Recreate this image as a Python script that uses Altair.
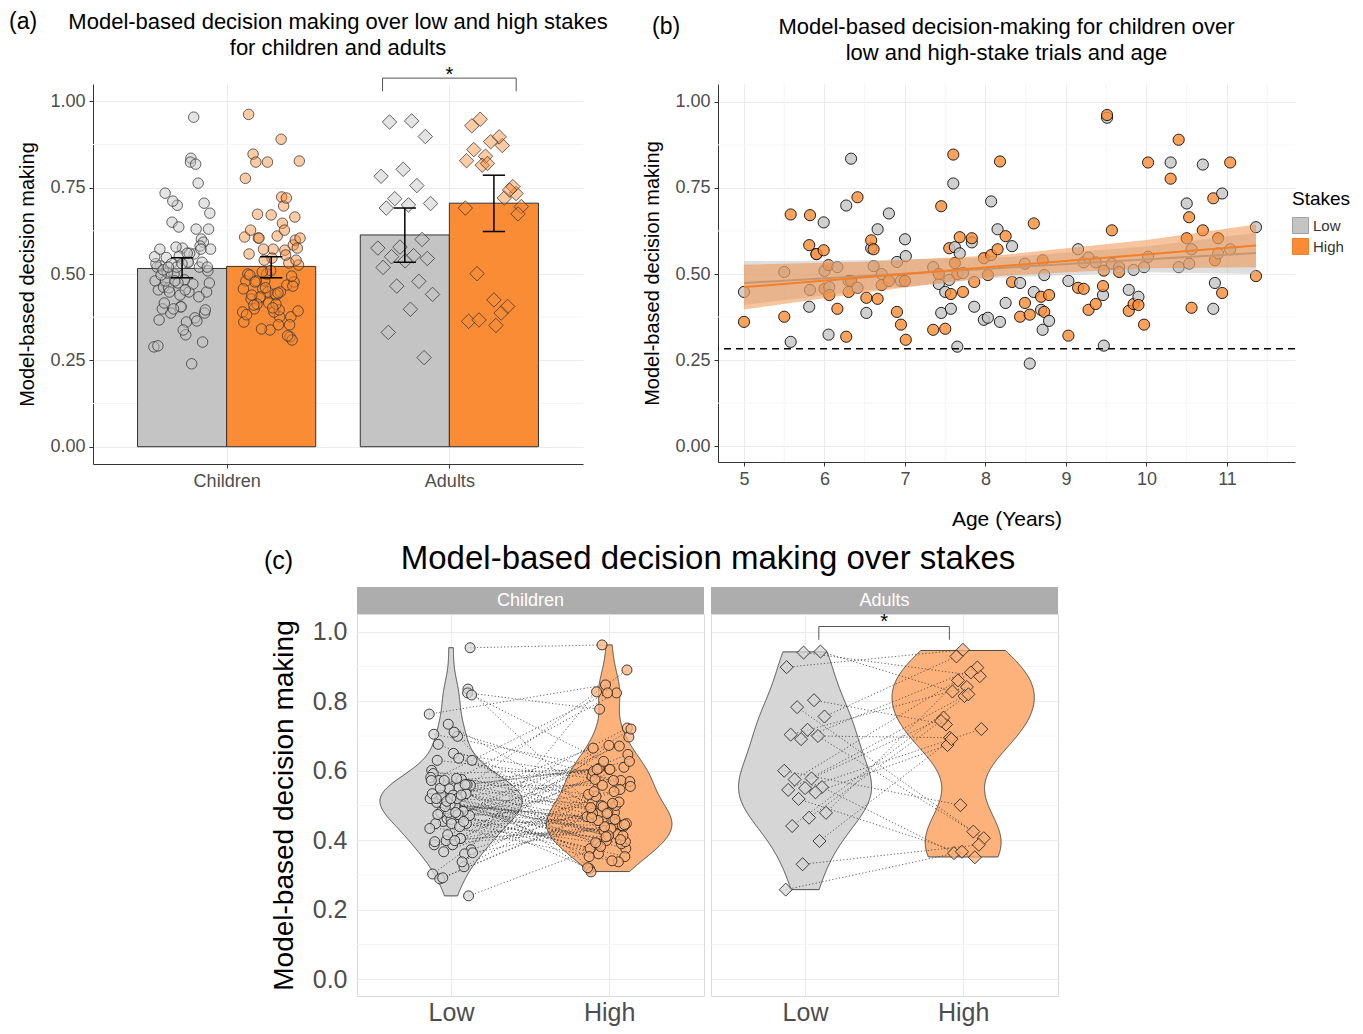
import altair as alt
import pandas as pd

FONT = "Liberation Sans"
GREY = "#C4C4C4"
ORANGE = "#FA8C35"
GRID = "#EBEBEB"
MINOR = "#F4F4F4"
AXIS = "#333333"
LABEL = "#4D4D4D"

# ---------------- text ----------------
stakes_levels = ["Low", "High"]
group_levels = ["Children", "Adults"]
panel_tags = ["(a)", "(b)", "(c)"]
title_a = ["Model-based decision making over low and high stakes", "for children and adults"]
title_b = ["Model-based decision-making for children over", "low and high-stake trials and age"]
title_c = "Model-based decision making over stakes"
y_title = "Model-based decision making"
x_title_b = "Age (Years)"
legend_title = "Stakes"
signif_label = "*"

# ---------------- data ----------------
child_age = [5.0, 5.5, 5.58, 5.81, 5.82, 5.9, 5.99, 6.0, 6.05, 6.06,
             6.16, 6.27, 6.3, 6.33, 6.41, 6.52, 6.58, 6.61, 6.66, 6.71,
             6.8, 6.9, 6.95, 7.0, 7.01, 7.35, 7.42, 7.45, 7.5, 7.55,
             7.57, 7.6, 7.62, 7.65, 7.68, 7.72, 7.83, 7.86, 7.98, 8.03,
             8.07, 8.15, 8.18, 8.25, 8.33, 8.43, 8.49, 8.55, 8.6, 8.69,
             8.71, 8.73, 8.79, 9.03, 9.15, 9.22, 9.28, 9.37, 9.46, 9.47,
             9.51, 9.57, 9.66, 9.78, 9.84, 9.9, 9.97, 10.02, 10.3, 10.4,
             10.5, 10.53, 10.56, 10.7, 10.83, 10.85, 10.89, 10.94, 11.04, 11.36]
child_low = [0.448, 0.506, 0.303, 0.405, 0.454, 0.558, 0.650, 0.509, 0.324, 0.462,
             0.520, 0.699, 0.480, 0.835, 0.460, 0.387, 0.575, 0.523, 0.630, 0.500,
             0.676, 0.535, 0.480, 0.601, 0.552, 0.520, 0.471, 0.387, 0.448, 0.483,
             0.399, 0.763, 0.578, 0.289, 0.560, 0.503, 0.592, 0.405, 0.367, 0.373,
             0.711, 0.630, 0.361, 0.416, 0.581, 0.474, 0.530, 0.240, 0.448, 0.396,
             0.338, 0.497, 0.364, 0.480, 0.572, 0.534, 0.548, 0.534, 0.439, 0.292,
             0.954, 0.530, 0.520, 0.454, 0.512, 0.434, 0.520, 0.550, 0.824, 0.520,
             0.705, 0.530, 0.572, 0.818, 0.399, 0.474, 0.560, 0.734, 0.572, 0.636]
child_high = [0.361, 0.376, 0.673, 0.584, 0.671, 0.558, 0.569, 0.457, 0.526, 0.439,
              0.399, 0.318, 0.448, 0.480, 0.723, 0.431, 0.598, 0.572, 0.428, 0.468,
              0.480, 0.390, 0.353, 0.480, 0.309, 0.338, 0.500, 0.697, 0.341, 0.575,
              0.442, 0.847, 0.532, 0.500, 0.607, 0.448, 0.604, 0.477, 0.546, 0.497,
              0.555, 0.572, 0.827, 0.610, 0.477, 0.376, 0.416, 0.382, 0.647, 0.434,
              0.540, 0.390, 0.439, 0.321, 0.460, 0.457, 0.396, 0.413, 0.465, 0.510,
              0.962, 0.627, 0.506, 0.393, 0.413, 0.410, 0.353, 0.824, 0.777, 0.890,
              0.604, 0.665, 0.402, 0.627, 0.720, 0.540, 0.604, 0.445, 0.824, 0.494]
adult_low = [0.943, 0.940, 0.898, 0.803, 0.783, 0.756, 0.718, 0.704, 0.700, 0.691,
             0.600, 0.578, 0.575, 0.553, 0.550, 0.545, 0.538, 0.519, 0.479, 0.465,
             0.441, 0.398, 0.331, 0.258]
adult_high = [0.828, 0.872, 0.948, 0.733, 0.425, 0.929, 0.406, 0.841, 0.695, 0.897,
              0.501, 0.753, 0.883, 0.363, 0.720, 0.815, 0.674, 0.351, 0.860, 0.743,
              0.820, 0.691, 0.387, 0.367]

# bar summaries (mean and 95% CI)
bar_group = ["Children", "Children", "Adults", "Adults"]
bar_stakes = ["Low", "High", "Low", "High"]
bar_mean = [0.516, 0.522, 0.613, 0.705]
bar_ci_lo = [0.489, 0.489, 0.534, 0.623]
bar_ci_hi = [0.547, 0.550, 0.691, 0.786]

# linear fits and confidence bands
fit_age = [5.0, 11.36]
fit_low = [0.474, 0.561]
fit_high = [0.462, 0.583]
band_age = [5.0, 6.5, 8.2, 10.0, 11.36]
band_low_lo = [0.410, 0.452, 0.490, 0.505, 0.500]
band_low_hi = [0.537, 0.540, 0.548, 0.580, 0.620]
band_high_lo = [0.397, 0.446, 0.495, 0.517, 0.520]
band_high_hi = [0.527, 0.536, 0.555, 0.599, 0.644]
chance_level = 0.283

# ticks
a_y_ticks = [0.0, 0.25, 0.5, 0.75, 1.0]
a_y_minor = [0.125, 0.375, 0.625, 0.875]
b_x_ticks = [5, 6, 7, 8, 9, 10, 11]
b_x_minor = [5.5, 6.5, 7.5, 8.5, 9.5, 10.5, 11.5]
c_y_ticks = [0.0, 0.2, 0.4, 0.6, 0.8, 1.0]
c_y_minor = [0.1, 0.3, 0.5, 0.7, 0.9]

# significance brackets
signif_a_x = [1.7, 2.3]
signif_a_y = [1.029, 1.067]
signif_c_x = [1.087, 1.913]
signif_c_y = [0.977, 1.015]

# ---------------- tables ----------------
def jit(k, w, s):
    return ((((k + 1) * 0.6180339887 + s) % 1.0) - 0.5) * 2.0 * w

rows = []
for i, (a, lo, hi) in enumerate(zip(child_age, child_low, child_high)):
    rows.append({"id": f"c{i}", "group": "Children", "age": a, "stakes": "Low", "value": lo, "k": i})
    rows.append({"id": f"c{i}", "group": "Children", "age": a, "stakes": "High", "value": hi, "k": i})
for i, (lo, hi) in enumerate(zip(adult_low, adult_high)):
    rows.append({"id": f"a{i}", "group": "Adults", "age": 0.0, "stakes": "Low", "value": lo, "k": i})
    rows.append({"id": f"a{i}", "group": "Adults", "age": 0.0, "stakes": "High", "value": hi, "k": i})
long_df = pd.DataFrame(rows)

g_index = {g: i + 1 for i, g in enumerate(group_levels)}
s_index = {s: i + 1 for i, s in enumerate(stakes_levels)}
s_offset = {stakes_levels[0]: -0.2, stakes_levels[1]: 0.2}
seed = {stakes_levels[0]: 0.0, stakes_levels[1]: 0.41}
long_df["xa"] = [g_index[g] + s_offset[s] + jit(k, 0.13, seed[s])
                 for g, s, k in zip(long_df.group, long_df.stakes, long_df.k)]
long_df["pos"] = long_df.stakes.map(s_index)
long_df["xc"] = [s_index[s] + jit(k, 0.14, seed[s] + 0.23)
                 for s, k in zip(long_df.stakes, long_df.k)]

bars_df = pd.DataFrame({"group": bar_group, "stakes": bar_stakes, "mean": bar_mean,
                        "lo": bar_ci_lo, "hi": bar_ci_hi})
bars_df["xc"] = bars_df.group.map(g_index) + bars_df.stakes.map(s_offset)
bars_df["x1"] = bars_df.xc - 0.2
bars_df["x2"] = bars_df.xc + 0.2
bars_df["c1"] = bars_df.xc - 0.05
bars_df["c2"] = bars_df.xc + 0.05
bars_df["zero"] = 0.0

fit_df = pd.DataFrame({"age": fit_age * 2,
                       "stakes": ["Low"] * 2 + ["High"] * 2,
                       "fit": fit_low + fit_high})
band_df = pd.DataFrame({"age": band_age * 2,
                        "stakes": ["Low"] * len(band_age) + ["High"] * len(band_age),
                        "lo": band_low_lo + band_high_lo,
                        "hi": band_low_hi + band_high_hi})


def bracket_df(xs, ys):
    return pd.DataFrame({"x": [xs[0], xs[0], xs[1], xs[1]],
                         "y": [ys[0], ys[1], ys[1], ys[0]],
                         "o": [0, 1, 2, 3]})


def one(**kw):
    return pd.DataFrame({k: [v] for k, v in kw.items()})


expr_groups = f"datum.value == 1 ? '{group_levels[0]}' : '{group_levels[1]}'"
expr_stakes = f"datum.value == 1 ? '{stakes_levels[0]}' : '{stakes_levels[1]}'"

fill_scale = alt.Scale(domain=stakes_levels, range=[GREY, ORANGE])

# ================= panel (a) =================
WA, HA = 490, 380
sx_a = alt.Scale(domain=[0.4, 2.6], nice=False, zero=False)
sy_a = alt.Scale(domain=[-0.05, 1.05], nice=False, zero=False)
ax_xa = alt.Axis(values=[1, 2], labelExpr=expr_groups, title=None, grid=True, gridColor=GRID,
                 domain=True, domainColor=AXIS, ticks=True, tickColor=AXIS, tickSize=4,
                 labelFontSize=18, labelColor=LABEL, labelPadding=4)
ax_ya = alt.Axis(values=a_y_ticks, format=".2f", title=y_title, grid=True, gridColor=GRID,
                 domain=True, domainColor=AXIS, ticks=True, tickColor=AXIS, tickSize=4,
                 labelFontSize=18, labelColor=LABEL, labelPadding=4, titleFontSize=20,
                 titleFontWeight="normal", titleColor="black", titlePadding=12)


def XA(f):
    return alt.X(f, type="quantitative", scale=sx_a, axis=ax_xa)


def YA(f):
    return alt.Y(f, type="quantitative", scale=sy_a, axis=ax_ya)


a_minor = alt.Chart(pd.DataFrame({"v": a_y_minor})).mark_rule(color=MINOR, strokeWidth=1).encode(y=YA("v"))
a_bars = alt.Chart(bars_df).mark_rect(stroke=AXIS, strokeWidth=1).encode(
    x=XA("x1"), x2="x2:Q", y=YA("zero"), y2="mean:Q",
    fill=alt.Fill("stakes:N", scale=fill_scale, legend=None))
a_pts_c = alt.Chart(long_df).transform_filter(f"datum.group == '{group_levels[0]}'").mark_point(
    filled=True, shape="circle", size=110, stroke=AXIS, strokeWidth=1, strokeOpacity=0.75,
    fillOpacity=0.45).encode(x=XA("xa"), y=YA("value"),
                             fill=alt.Fill("stakes:N", scale=fill_scale, legend=None))
a_pts_a = alt.Chart(long_df).transform_filter(f"datum.group == '{group_levels[1]}'").mark_point(
    filled=True, shape="diamond", size=210, stroke=AXIS, strokeWidth=1, strokeOpacity=0.75,
    fillOpacity=0.45).encode(x=XA("xa"), y=YA("value"),
                             fill=alt.Fill("stakes:N", scale=fill_scale, legend=None))
a_err = alt.Chart(bars_df).mark_rule(color="black", strokeWidth=1.5).encode(x=XA("xc"), y=YA("lo"), y2="hi:Q")
a_cap_lo = alt.Chart(bars_df).mark_rule(color="black", strokeWidth=1.5).encode(x=XA("c1"), x2="c2:Q", y=YA("lo"))
a_cap_hi = alt.Chart(bars_df).mark_rule(color="black", strokeWidth=1.5).encode(x=XA("c1"), x2="c2:Q", y=YA("hi"))
a_br = alt.Chart(bracket_df(signif_a_x, signif_a_y)).mark_line(color="#555555", strokeWidth=1).encode(
    x=XA("x"), y=YA("y"), order="o:Q")
a_star = alt.Chart(one(x=sum(signif_a_x) / 2, y=signif_a_y[1] + 0.008, t=signif_label)).mark_text(
    fontSize=20, baseline="middle", color="black").encode(x=XA("x"), y=YA("y"), text="t:N")
a_tag = alt.Chart(one(t=panel_tags[0])).mark_text(align="left", baseline="top", fontSize=23,
                                                   color="black").encode(
    x=alt.value(-84), y=alt.value(-73.2), text="t:N")
a_title = alt.Chart(one(t=0)).mark_text(align="center", baseline="top", fontSize=22,
                                        lineHeight=26, color="black").encode(
    x=alt.value(WA / 2), y=alt.value(-72.4), text=alt.value(title_a))

chart_a = alt.layer(a_minor, a_bars, a_pts_c, a_pts_a, a_err, a_cap_lo, a_cap_hi, a_br, a_star,
                    a_tag, a_title).properties(width=WA, height=HA)

# ================= panel (b) =================
WB, HB = 577, 378
sx_b = alt.Scale(domain=[4.677, 11.845], nice=False, zero=False)
sy_b = alt.Scale(domain=[-0.046, 1.052], nice=False, zero=False)
ax_xb = alt.Axis(values=b_x_ticks, format="d", title=x_title_b, grid=True, gridColor=GRID,
                 domain=True, domainColor=AXIS, ticks=True, tickColor=AXIS, tickSize=4,
                 labelFontSize=18, labelColor=LABEL, labelPadding=4, titleFontSize=21,
                 titleFontWeight="normal", titleColor="black", titlePadding=20)
ax_yb = alt.Axis(values=a_y_ticks, format=".2f", title=y_title, grid=True, gridColor=GRID,
                 domain=True, domainColor=AXIS, ticks=True, tickColor=AXIS, tickSize=4,
                 labelFontSize=18, labelColor=LABEL, labelPadding=4, titleFontSize=20,
                 titleFontWeight="normal", titleColor="black", titlePadding=12)


def XB(f):
    return alt.X(f, type="quantitative", scale=sx_b, axis=ax_xb)


def YB(f):
    return alt.Y(f, type="quantitative", scale=sy_b, axis=ax_yb)


legend_b = alt.Legend(title=legend_title, orient="none", legendX=574, legendY=106,
                      titleFontSize=19, titleFontWeight="normal", titleColor="black",
                      labelFontSize=15, labelColor="#333333", symbolType="square",
                      symbolSize=256, symbolStrokeColor=AXIS, symbolStrokeWidth=1,
                      symbolOpacity=1, rowPadding=0, titlePadding=8)

b_minor_y = alt.Chart(pd.DataFrame({"v": a_y_minor})).mark_rule(color=MINOR, strokeWidth=1).encode(y=YB("v"))
b_minor_x = alt.Chart(pd.DataFrame({"v": b_x_minor})).mark_rule(color=MINOR, strokeWidth=1).encode(x=XB("v"))
b_pts = alt.Chart(long_df).transform_filter(f"datum.group == '{group_levels[0]}'").mark_point(
    filled=True, shape="circle", size=125, stroke="black", strokeWidth=1, strokeOpacity=0.85,
    fillOpacity=0.8).encode(x=XB("age"), y=YB("value"),
                            fill=alt.Fill("stakes:N", scale=fill_scale, legend=legend_b))
band_scale = alt.Scale(domain=stakes_levels, range=["#BDBDBD", "#F08A3C"])
line_scale = alt.Scale(domain=stakes_levels, range=["#A0A0A0", "#F47F26"])
b_layers = []
for s in stakes_levels:
    b_layers.append(alt.Chart(band_df).transform_filter(f"datum.stakes == '{s}'").mark_area(
        opacity=0.5).encode(x=XB("age"), y=YB("lo"), y2="hi:Q",
                            color=alt.Color("stakes:N", scale=band_scale, legend=None)))
    b_layers.append(alt.Chart(fit_df).transform_filter(f"datum.stakes == '{s}'").mark_line(
        strokeWidth=2).encode(x=XB("age"), y=YB("fit"),
                              stroke=alt.Stroke("stakes:N", scale=line_scale, legend=None)))
b_chance = alt.Chart(one(v=chance_level)).mark_rule(color="black", strokeWidth=1.3,
                                                    strokeDash=[7, 5]).encode(y=YB("v"))
b_tag = alt.Chart(one(t=panel_tags[1])).mark_text(align="left", baseline="top", fontSize=23,
                                                   color="black").encode(
    x=alt.value(-66), y=alt.value(-68.2), text="t:N")
b_title = alt.Chart(one(t=0)).mark_text(align="center", baseline="top", fontSize=22,
                                        lineHeight=26, color="black").encode(
    x=alt.value(WB / 2), y=alt.value(-67.4), text=alt.value(title_b))

chart_b = alt.layer(b_minor_y, b_minor_x, b_pts, *b_layers, b_chance, b_tag, b_title).properties(
    width=WB, height=HB)

# ================= panel (c) =================
WC, HC = 347, 382
sx_c = alt.Scale(domain=[0.405, 2.6], nice=False, zero=False)
sy_c = alt.Scale(domain=[-0.048, 1.051], nice=False, zero=False)
ax_xc = alt.Axis(values=[1, 2], labelExpr=expr_stakes, title=None, grid=True, gridColor=GRID,
                 domain=False, ticks=False, labelFontSize=25, labelColor=LABEL, labelPadding=4)
ax_yc_main = alt.Axis(values=c_y_ticks, format=".1f", title=y_title, grid=True, gridColor=GRID,
                      domain=False, ticks=False, labelFontSize=25, labelColor=LABEL, labelPadding=10,
                      titleFontSize=28, titleFontWeight="normal", titleColor="black", titlePadding=14)
ax_yc_side = alt.Axis(values=c_y_ticks, labels=False, title=None, grid=True, gridColor=GRID,
                      domain=False, ticks=False)
violin_scale = alt.Scale(domain=stakes_levels, range=["#D6D6D6", "#FDB27B"])
pt_scale = alt.Scale(domain=stakes_levels, range=["#CFCFCF", "#F7903D"])


def make_c(group, shape, size, bw, ax_y, extra):
    def XC(f):
        return alt.X(f, type="quantitative", scale=sx_c, axis=ax_xc)

    def YC(f):
        return alt.Y(f, type="quantitative", scale=sy_c, axis=ax_y)

    d = long_df[long_df.group == group]
    minor = alt.Chart(pd.DataFrame({"v": c_y_minor})).mark_rule(color=MINOR, strokeWidth=1).encode(y=YC("v"))
    violin = alt.Chart(d).transform_joinaggregate(
        vmin="min(value)", vmax="max(value)", groupby=["stakes"]
    ).transform_density(
        "value", groupby=["stakes", "pos", "vmin", "vmax"], bandwidth=bw, extent=[0.2, 1.0],
        steps=400, as_=["value", "density"]
    ).transform_filter(
        "datum.value >= datum.vmin && datum.value <= datum.vmax"
    ).transform_joinaggregate(dmax="max(density)").transform_calculate(
        xl="datum.pos - datum.density / datum.dmax * 0.45",
        xr="datum.pos + datum.density / datum.dmax * 0.45"
    ).mark_area(orient="horizontal", stroke="#4D4D4D", strokeWidth=1).encode(
        y=YC("value"), x=XC("xl"), x2="xr:Q", detail="stakes:N",
        fill=alt.Fill("stakes:N", scale=violin_scale, legend=None))
    lines = alt.Chart(d).mark_line(color="#333333", strokeWidth=0.9, strokeDash=[1.2, 2.2],
                                   opacity=0.85).encode(
        x=XC("xc"), y=YC("value"), detail="id:N", order="pos:Q")
    pts = alt.Chart(d).mark_point(filled=True, shape=shape, size=size, stroke="#222222",
                                  strokeWidth=1, strokeOpacity=0.85, fillOpacity=0.75).encode(
        x=XC("xc"), y=YC("value"), fill=alt.Fill("stakes:N", scale=pt_scale, legend=None))
    strip = alt.Chart(one(g=group)).mark_rect(fill="#ADADAD").encode(
        x=alt.value(0), x2=alt.value(WC), y=alt.value(-27), y2=alt.value(0))
    strip_t = alt.Chart(one(g=group)).mark_text(color="white", fontSize=18, baseline="middle").encode(
        x=alt.value(WC / 2), y=alt.value(-13), text="g:N")
    layers = [minor, violin, lines, pts, strip, strip_t]
    for e in extra:
        if e == "signif":
            layers.append(alt.Chart(bracket_df(signif_c_x, signif_c_y)).mark_line(
                color="#555555", strokeWidth=1).encode(x=XC("x"), y=YC("y"), order="o:Q"))
            layers.append(alt.Chart(one(x=sum(signif_c_x) / 2, y=signif_c_y[1] + 0.012, t=signif_label)).mark_text(
                fontSize=20, baseline="middle", color="black").encode(x=XC("x"), y=YC("y"), text="t:N"))
        if e == "title":
            layers.append(alt.Chart(one(t=panel_tags[2])).mark_text(
                align="left", baseline="alphabetic", fontSize=25, color="black").encode(
                x=alt.value(-93), y=alt.value(-45), text="t:N"))
            layers.append(alt.Chart(one(t=title_c)).mark_text(
                align="center", baseline="alphabetic", fontSize=33, color="black").encode(
                x=alt.value(351), y=alt.value(-45), text="t:N"))
    return alt.layer(*layers).properties(width=WC, height=HC,
                                         view=alt.ViewBackground(stroke="#DADADA"))


chart_c1 = make_c(group_levels[0], "circle", 100, 0.05, ax_yc_main, ["title"])
chart_c2 = make_c(group_levels[1], "diamond", 170, 0.09, ax_yc_side, ["signif"])

spacer = alt.Chart(one(v=0)).mark_point(opacity=0).encode(
    x=alt.X("v:Q", axis=None), y=alt.Y("v:Q", axis=None)).properties(width=257, height=10)

indep = dict(fill="independent", color="independent", stroke="independent")
top = alt.hconcat(chart_a, chart_b, spacing=33).resolve_scale(**indep).resolve_legend(fill="independent")
bottom = alt.hconcat(spacer, chart_c1, chart_c2, spacing=7, bounds="flush").resolve_scale(**indep)

chart = alt.vconcat(top, bottom, spacing=12).resolve_scale(**indep).resolve_legend(
    fill="independent").properties(padding={"left": 0, "top": 2, "right": 0, "bottom": 0}).configure(
    font=FONT).configure_view(stroke="transparent")

chart.save("out.html", embed_options={"renderer": "svg", "actions": False})
